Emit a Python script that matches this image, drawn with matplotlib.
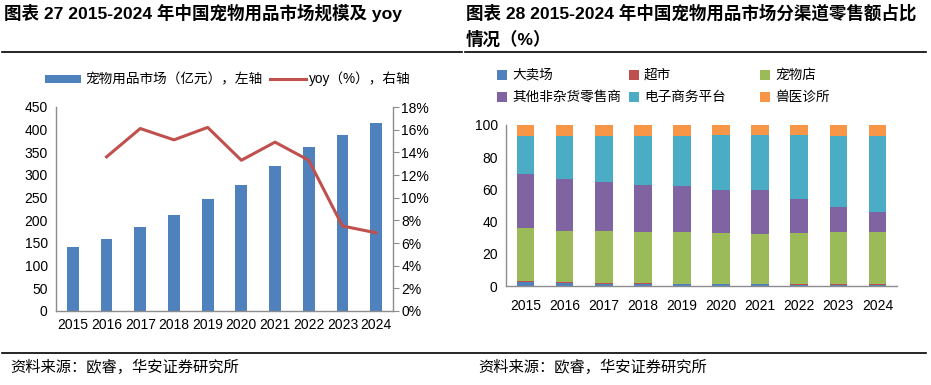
import matplotlib
matplotlib.use("Agg")
import matplotlib.pyplot as plt
from matplotlib.patches import Rectangle
from matplotlib.lines import Line2D
from matplotlib.ticker import PercentFormatter
import numpy as np

plt.rcParams['font.family'] = ['Liberation Sans', 'Noto Sans CJK SC', 'DejaVu Sans']

# ---------------- data ----------------
years = ['2015', '2016', '2017', '2018', '2019', '2020', '2021', '2022', '2023', '2024']
market_size = [141, 159, 185, 212, 247, 278, 320, 362, 389, 415]          # 亿元
yoy = [None, 13.6, 16.1, 15.1, 16.2, 13.3, 14.9, 13.3, 7.5, 6.9]           # %

channel_names = ['大卖场', '超市', '宠物店', '其他非杂货零售商', '电子商务平台', '兽医诊所']
hypermarket = [2.5, 1.7, 1.2, 1.2, 1.0, 1.0, 1.0, 0.4, 0.4, 0.4]
supermarket = [0.6, 0.6, 0.5, 0.5, 0.2, 0.1, 0.1, 0.6, 0.6, 0.6]
pet_store = [33.1, 32.1, 32.7, 32.0, 32.5, 32.0, 31.4, 32.1, 32.7, 32.7]
other_retail = [33.6, 32.1, 30.4, 29.2, 28.6, 26.5, 27.1, 21.1, 15.6, 12.5]
ecommerce = [23.6, 26.9, 28.6, 30.5, 31.1, 34.4, 34.4, 39.8, 44.1, 47.2]
vet_clinic = [6.6, 6.6, 6.6, 6.6, 6.6, 6.0, 6.0, 6.0, 6.6, 6.6]

colors = ['#4F81BD', '#C0504D', '#9BBB59', '#8064A2', '#4BACC6', '#F79646']
bar_blue = '#4F81BD'
line_red = '#C0504D'
spine_gray = '#8C8C8C'

W, H = 931, 385
fig = plt.figure(figsize=(W / 100, H / 100), dpi=100)

def fx(px):
    return px / W

def fy(py):
    return 1 - py / H

# ---------------- titles / rules / sources ----------------
fig.text(fx(4), fy(13), '图表 27 2015-2024 年中国宠物用品市场规模及 yoy', fontsize=12.6,
         fontweight='bold', va='center', ha='left')
fig.text(fx(466), fy(13), '图表 28 2015-2024 年中国宠物用品市场分渠道零售额占比', fontsize=12.6,
         fontweight='bold', va='center', ha='left')
fig.text(fx(466), fy(39), '情况（%）', fontsize=12.6, fontweight='bold', va='center', ha='left')

fig.add_artist(Line2D([fx(2), fx(462)], [fy(52), fy(52)], color='black', lw=1.2))
fig.add_artist(Line2D([fx(465), fx(926)], [fy(52), fy(52)], color='black', lw=1.2))
fig.add_artist(Line2D([fx(2), fx(926)], [fy(353), fy(353)], color='black', lw=1.2))

fig.text(fx(10), fy(367), '资料来源：欧睿，华安证券研究所', fontsize=11, va='center', ha='left')
fig.text(fx(478), fy(367), '资料来源：欧睿，华安证券研究所', fontsize=11, va='center', ha='left')

# ---------------- left chart ----------------
ax1 = fig.add_axes([fx(56), fy(311), fx(393) - fx(56), fy(107) - fy(311)])
x = np.arange(len(years))
ax1.bar(x, market_size, width=0.35, color=bar_blue, zorder=2)
ax1.set_xlim(-0.5, len(years) - 0.5)
ax1.set_ylim(0, 450)
ax1.set_yticks(np.arange(0, 451, 50))
ax1.set_xticks(x)
ax1.set_xticklabels(years)
ax2 = ax1.twinx()
yx = [i for i, v in enumerate(yoy) if v is not None]
yv = [v for v in yoy if v is not None]
ax2.plot(yx, yv, color=line_red, lw=2.2, zorder=3)
ax2.set_ylim(0, 18)
ax2.set_yticks(np.arange(0, 18.1, 2))
ax2.yaxis.set_major_formatter(PercentFormatter(decimals=0))

for a in (ax1, ax2):
    for s in a.spines.values():
        s.set_visible(False)
ax1.spines['left'].set_visible(True)
ax1.spines['bottom'].set_visible(True)
ax2.spines['right'].set_visible(True)
for s in (ax1.spines['left'], ax1.spines['bottom'], ax2.spines['right']):
    s.set_color(spine_gray)
    s.set_linewidth(1.0)
ax1.tick_params(axis='y', length=0, labelsize=10, pad=6)
ax1.tick_params(axis='x', length=0, labelsize=10, pad=5)
ax2.tick_params(axis='y', length=4, color=spine_gray, labelsize=10, pad=2)

# left legend
fig.add_artist(Rectangle((fx(45), fy(83)), fx(81) - fx(45), fy(75) - fy(83),
                         facecolor=bar_blue, edgecolor='none'))
fig.text(fx(85), fy(79), '宠物用品市场（亿元），左轴', fontsize=9.8, va='center', ha='left')
fig.add_artist(Line2D([fx(270), fx(306)], [fy(79), fy(79)], color=line_red, lw=2.2))
fig.text(fx(309), fy(79), 'yoy（%），右轴', fontsize=9.8, va='center', ha='left')

# ---------------- right chart ----------------
ax3 = fig.add_axes([fx(506), fy(286), fx(897) - fx(506), fy(125) - fy(286)])
series = [hypermarket, supermarket, pet_store, other_retail, ecommerce, vet_clinic]
bottom = np.zeros(len(years))
for vals, c, name in zip(series, colors, channel_names):
    ax3.bar(x, vals, bottom=bottom, width=0.45, color=c, label=name, zorder=2)
    bottom += np.array(vals)
ax3.set_xlim(-0.5, len(years) - 0.5)
ax3.set_ylim(0, 100)
ax3.set_yticks(np.arange(0, 101, 20))
ax3.set_xticks(x)
ax3.set_xticklabels(years)
for s in ax3.spines.values():
    s.set_visible(False)
for s in (ax3.spines['left'], ax3.spines['bottom']):
    s.set_visible(True)
    s.set_color(spine_gray)
    s.set_linewidth(1.0)
ax3.tick_params(axis='y', length=0, labelsize=10, pad=6)
ax3.tick_params(axis='x', length=0, labelsize=10, pad=9)

# right legend (3 columns x 2 rows)
col_x = [497, 629, 760]
row_y = [75, 97]
for i, (name, c) in enumerate(zip(channel_names, colors)):
    r, cidx = divmod(i, 3)
    px, py = col_x[cidx], row_y[r]
    fig.add_artist(Rectangle((fx(px), fy(py + 5)), fx(10), 10 / H,
                             facecolor=c, edgecolor='none'))
    fig.text(fx(px + 15), fy(py), name, fontsize=9.8, va='center', ha='left')

fig.savefig('out.png', dpi=100)
